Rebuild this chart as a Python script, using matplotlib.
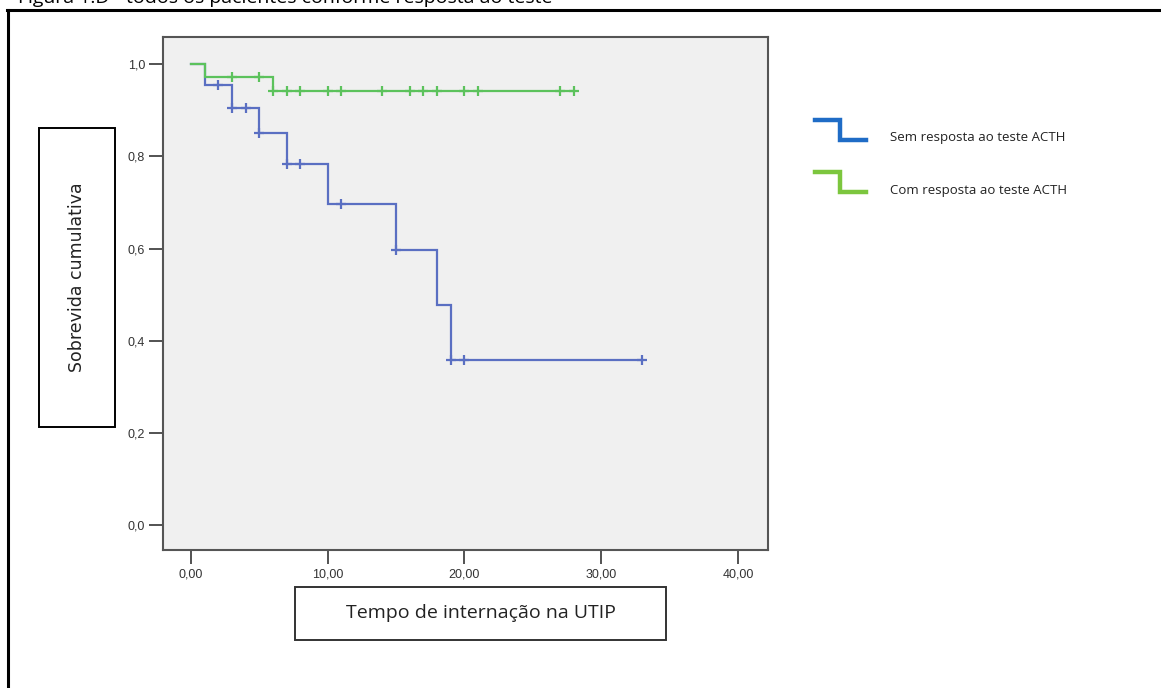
import matplotlib
matplotlib.use("Agg")
import matplotlib.pyplot as plt
import numpy as np
from matplotlib.lines import Line2D
from matplotlib.patches import Rectangle

# ---- data ----
blue_label = "Sem resposta ao teste ACTH"
blue_step_t = [0, 1, 3, 5, 7, 10, 15, 18, 19, 33]
blue_step_s = [1.0, 0.955, 0.906, 0.851, 0.783, 0.696, 0.597, 0.478, 0.358, 0.358]
blue_cens_t = [2, 3, 4, 5, 7, 8, 11, 15, 19, 20, 33]

green_label = "Com resposta ao teste ACTH"
green_step_t = [0, 1, 6, 28]
green_step_s = [1.0, 0.972, 0.942, 0.942]
green_cens_t = [3, 5, 6, 7, 8, 10, 11, 14, 16, 17, 18, 20, 21, 27, 28]

x_ticks = [0, 10, 20, 30, 40]
x_ticklabels = ["0,00", "10,00", "20,00", "30,00", "40,00"]
y_ticks = [0.0, 0.2, 0.4, 0.6, 0.8, 1.0]
y_ticklabels = ["0,0", "0,2", "0,4", "0,6", "0,8", "1,0"]

title = "Figura 1.D - todos os pacientes conforme resposta ao teste"
xlabel = "Tempo de internação na UTIP"
ylabel = "Sobrevida cumulativa"

W, H = 1161, 688
fig = plt.figure(figsize=(W / 100, H / 100), dpi=100)
fig.patch.set_facecolor("white")

def fx(px):
    return px / W

def fy(py):
    return 1 - py / H

ax = fig.add_axes([fx(163), fy(550), fx(768) - fx(163), fy(37) - fy(550)])
ax.set_facecolor("#f0f0f0")
ax.set_xlim(-2.05, 42.2)
ax.set_ylim(-0.054, 1.059)

def step_value(ts, ss, t):
    idx = np.searchsorted(ts, t, side="right") - 1
    return ss[idx]

blue_col = "#5a6fc2"
green_col = "#5cc25c"
for ts, ss, cens, col in [(blue_step_t, blue_step_s, blue_cens_t, blue_col),
                          (green_step_t, green_step_s, green_cens_t, green_col)]:
    ax.step(ts, ss, where="post", color=col, lw=1.6, solid_joinstyle="miter")
    cy = [step_value(ts, ss, t) for t in cens]
    ax.plot(cens, cy, ls="none", marker="+", ms=7, mew=1.6, color=col)

ax.set_xticks(x_ticks)
ax.set_xticklabels(x_ticklabels)
ax.set_yticks(y_ticks)
ax.set_yticklabels(y_ticklabels)
ax.tick_params(axis="both", direction="out", length=10, width=1.3, color="#444444",
               labelsize=9, labelcolor="#333333", pad=3)
for lab in ax.get_xticklabels() + ax.get_yticklabels():
    lab.set_family("Liberation Sans")
for s in ax.spines.values():
    s.set_color("#555555")
    s.set_linewidth(1.5)

# outer frame (extends past right and bottom edges)
fig.add_artist(Line2D([fx(8), fx(8)], [fy(10), fy(700)], color="black", lw=2.2,
                      transform=fig.transFigure))
fig.add_artist(Line2D([fx(7), fx(1170)], [fy(10), fy(10)], color="black", lw=2.2,
                      transform=fig.transFigure))

# title, clipped at the top edge as in the reference
fig.text(fx(18), fy(3), title, fontsize=14, family="Open Sans", color="black",
         ha="left", va="baseline")

# y label box
fig.add_artist(Rectangle((fx(39), fy(427)), fx(115) - fx(39), fy(128) - fy(427),
                         transform=fig.transFigure, fill=False, ec="black", lw=1.4))
fig.text(fx(77), fy(277.5), ylabel, rotation=90, fontsize=12.5, family="DejaVu Sans",
         color="#222222", ha="center", va="center")

# x label box
fig.add_artist(Rectangle((fx(295), fy(640)), fx(666) - fx(295), fy(587) - fy(640),
                         transform=fig.transFigure, fill=False, ec="#333333", lw=1.4))
fig.text(fx(480.5), fy(613.5), xlabel, fontsize=14, family="Open Sans",
         color="#222222", ha="center", va="center")

# legend
leg_items = [(blue_label, "#1f6cc6", 120), (green_label, "#7cc63e", 172)]
for lab, col, ytop in leg_items:
    xs = [fx(815), fx(840), fx(840), fx(866)]
    ys = [fy(ytop), fy(ytop), fy(ytop + 20), fy(ytop + 20)]
    fig.add_artist(Line2D(xs, ys, color=col, lw=3.2, transform=fig.transFigure,
                          solid_joinstyle="miter"))
    fig.text(fx(890), fy(ytop + 18), lab, fontsize=9.5, family="Open Sans",
             color="#222222", ha="left", va="center")

fig.savefig("out.png", dpi=100, facecolor="white")
